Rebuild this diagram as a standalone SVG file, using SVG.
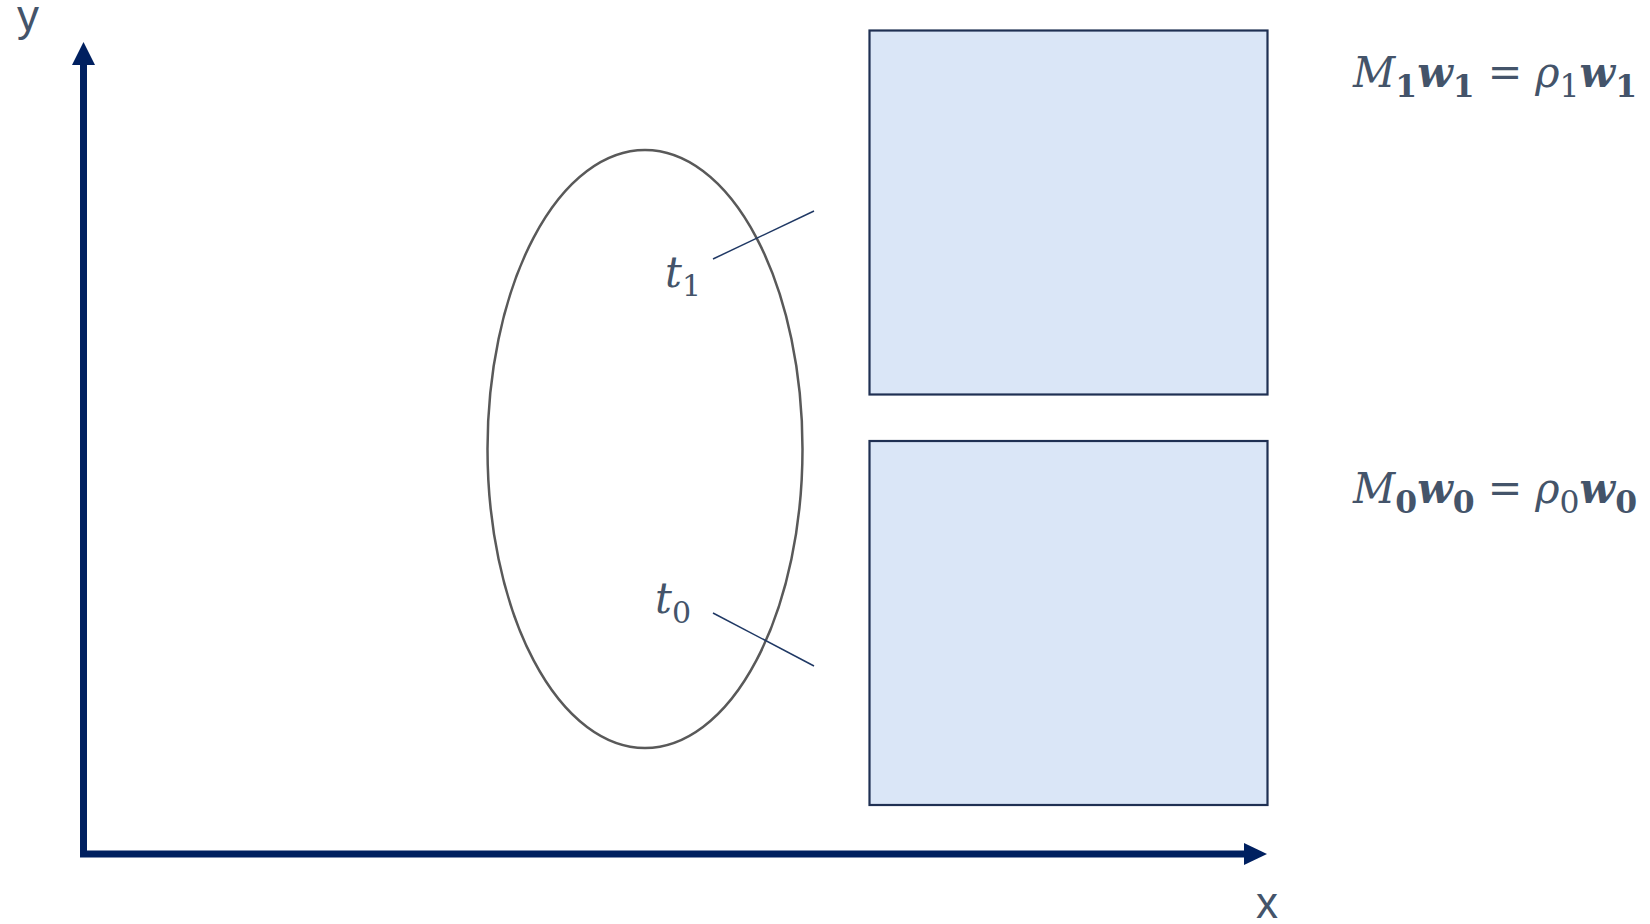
<svg xmlns="http://www.w3.org/2000/svg" width="1650" height="924" viewBox="0 0 1650 924">
<style>
.lbl{font-family:"Liberation Sans","DejaVu Sans",sans-serif;fill:#44546A;font-size:44px}
.math{font-family:"DejaVu Serif","Liberation Serif",serif;fill:#44546A}
.box{fill:#DAE6F7;stroke:#1F3053;stroke-width:2.2}
.ax{stroke:#002060;stroke-width:7;fill:none}
.tick{stroke:#1F3864;stroke-width:1.5}
</style>
<rect width="1650" height="924" fill="#fff"/>
<g id="axes">
<path class="ax" d="M83.5,854 V65"/>
<path d="M72,65 L83.5,42 L95,65 Z" fill="#002060"/>
<path class="ax" d="M80,854 H1244"/>
<path d="M1244,843 L1267,854 L1244,865 Z" fill="#002060"/>
<text class="lbl" x="17" y="31">y</text>
<text class="lbl" x="1256" y="918">x</text>
</g>
<g id="ellipse">
<ellipse cx="645" cy="449" rx="157.5" ry="299" fill="none" stroke="#595959" stroke-width="2.5"/>
</g>
<g id="box1"><rect class="box" x="869.5" y="30.5" width="398" height="364"/></g>
<g id="box0"><rect class="box" x="869.5" y="441" width="398" height="364"/></g>
<g id="connectors">
<line class="tick" x1="713" y1="259" x2="814" y2="211"/>
<line class="tick" x1="713" y1="613" x2="814" y2="666"/>
</g>
<g id="t1"><text class="math" x="665" y="287" font-size="42" font-style="italic">t<tspan font-size="30" font-style="normal" dy="9">1</tspan></text></g>
<g id="t0"><text class="math" x="655" y="613" font-size="42" font-style="italic">t<tspan font-size="30" font-style="normal" dy="10">0</tspan></text></g>
<g id="eq1"><text class="math" x="1353" y="87" font-size="42" textLength="284" lengthAdjust="spacingAndGlyphs"><tspan font-style="italic">M</tspan><tspan font-size="32" font-weight="bold" dy="10">1</tspan><tspan font-weight="bold" font-style="italic" dy="-10">w</tspan><tspan font-size="32" font-weight="bold" dy="10">1</tspan><tspan dy="-10"> = </tspan><tspan font-style="italic">ρ</tspan><tspan font-size="32" dy="10">1</tspan><tspan font-weight="bold" font-style="italic" dy="-10">w</tspan><tspan font-size="32" font-weight="bold" dy="10">1</tspan></text></g>
<g id="eq0"><text class="math" x="1353" y="503" font-size="42" textLength="284" lengthAdjust="spacingAndGlyphs"><tspan font-style="italic">M</tspan><tspan font-size="32" font-weight="bold" dy="10">0</tspan><tspan font-weight="bold" font-style="italic" dy="-10">w</tspan><tspan font-size="32" font-weight="bold" dy="10">0</tspan><tspan dy="-10"> = </tspan><tspan font-style="italic">ρ</tspan><tspan font-size="32" dy="10">0</tspan><tspan font-weight="bold" font-style="italic" dy="-10">w</tspan><tspan font-size="32" font-weight="bold" dy="10">0</tspan></text></g>
</svg>
